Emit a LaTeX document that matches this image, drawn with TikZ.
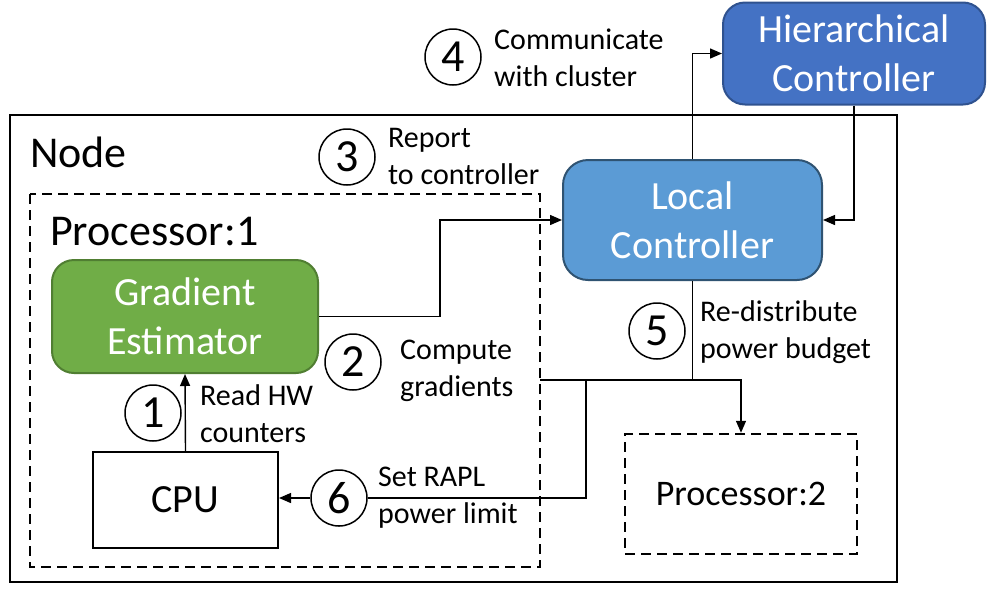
\documentclass[tikz,border=0pt]{standalone}
\usepackage{fontspec}
\setmainfont{Carlito}
\usetikzlibrary{arrows.meta,calc}

\definecolor{geFill}{HTML}{70AD47}
\definecolor{geLine}{HTML}{507E32}
\definecolor{lcFill}{HTML}{5B9BD5}
\definecolor{lcLine}{HTML}{2F5372}
\definecolor{hcFill}{HTML}{4472C4}
\definecolor{hcLine}{HTML}{2F528F}

\tikzset{
  conn/.style={line width=1.4pt},
  arr/.style={conn, -{Triangle[length=12pt,width=10pt]}},
  stepnum/.style={circle, draw, line width=1.5pt, minimum size=56pt, inner sep=0pt,
    font=\fontsize{46}{46}\selectfont},
  lbl/.style={anchor=west, align=left, inner sep=0pt, font=\fontsize{30}{37}\selectfont},
  ctrlbox/.style={draw, rounded corners=22pt, line width=2pt, text=white, align=center,
    inner sep=0pt, font=\fontsize{40}{49}\selectfont},
  bigtitle/.style={anchor=base west, inner sep=0pt, font=\fontsize{44}{44}\selectfont},
  dashbox/.style={draw, line width=2.5pt, dash pattern=on 10pt off 6pt},
}

\begin{document}
\begin{tikzpicture}[x=1pt, y=-1pt]
  \useasboundingbox (0,0) rectangle (987,590);

  % compute node frame and processor frames
  \draw[line width=2.4pt] (10,115) rectangle (897,582);
  \node[bigtitle] (nodetitle) at (30,167) {Node};
  \draw[dashbox] (30,194) rectangle (540,567);
  \node[bigtitle] (proctitle) at (50,245) {Processor:1};

  % blocks
  \node[ctrlbox, fill=geFill, draw=geLine, minimum width=266pt, minimum height=113pt]
    (ge) at (185,316.5) {Gradient\\Estimator};
  \node[draw, line width=2pt, minimum width=185pt, minimum height=96pt, inner sep=0pt,
    font=\fontsize{40}{40}\selectfont] (cpu) at (185.5,500) {CPU};
  \node[ctrlbox, rounded corners=25pt, fill=lcFill, draw=lcLine, minimum width=259pt, minimum height=120pt]
    (local) at (692.5,220) {Local\\Controller};
  \node[ctrlbox, fill=hcFill, draw=hcLine, minimum width=262pt, minimum height=102pt]
    (hier) at (854,53.5) {Hierarchical\\Controller};
  \node[dashbox, minimum width=232pt, minimum height=120pt, inner sep=0pt,
    font=\fontsize{36}{36}\selectfont] (proc2) at (741,494) {Processor:2};

  % numbered steps
  \node[stepnum] (s1) at (153,413) {1};
  \node[stepnum] (s2) at (353,362) {2};
  \node[stepnum] (s3) at (347,157) {3};
  \node[stepnum] (s4) at (453,57) {4};
  \node[stepnum] (s5) at (657,331) {5};
  \node[stepnum] (s6) at (339,498) {6};

  % routing points
  \coordinate (bendx) at (440,0);
  \coordinate (split) at (540,380);
  \coordinate (drop) at (586,380);

  % connectors
  \draw[arr] (cpu.north) -- (ge.south);
  \draw[arr] (ge.east) -- (ge.east -| bendx) |- (local.west);
  \draw[arr] (local.north) |- (hier.west);
  \draw[arr] (hier.south) |- (local.east);
  \draw[conn] (local.south) -- (local.south |- split);
  \draw[arr] (split) -| (proc2.north);
  \draw[conn] (drop) |- (s6.east);
  \draw[arr] (s6.west) -- (s6.west -| cpu.east);

  % step descriptions
  \node[lbl] (l1) at (200,414) {Read HW\\counters};
  \node[lbl] (l2) at (400,371) {Compute\\gradients};
  \node[lbl] (l3) at (388,156) {Report\\to controller};
  \node[lbl] (l4) at (494,58) {Communicate\\with cluster};
  \node[lbl] (l5) at (700,332) {Re-distribute\\power budget};
  \node[lbl] (l6) at (378,498) {Set RAPL\\power limit};
\end{tikzpicture}
\end{document}
